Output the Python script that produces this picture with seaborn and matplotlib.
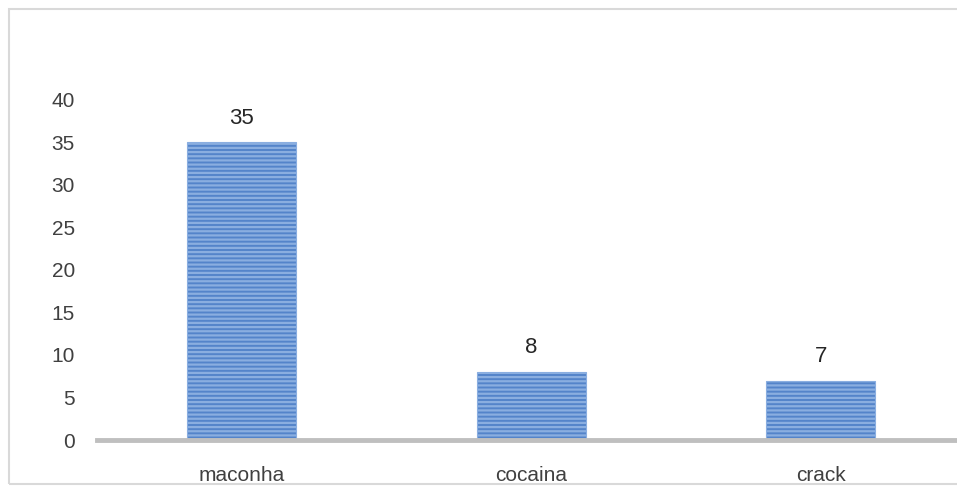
import matplotlib
matplotlib.use("Agg")
import matplotlib.pyplot as plt
from matplotlib.patches import Rectangle
import seaborn as sns
import pandas as pd

categories = ["maconha", "cocaina", "crack"]
values = [35, 8, 7]
y_ticks = [0, 5, 10, 15, 20, 25, 30, 35, 40]

sns.set_theme(style="white")
plt.rcParams["font.family"] = ["Liberation Sans", "DejaVu Sans"]
plt.rcParams["hatch.color"] = "#B4CBEE"
plt.rcParams["hatch.linewidth"] = 1.6

df = pd.DataFrame({"droga": categories, "n": values})

W, H = 957, 487
fig = plt.figure(figsize=(W / 100, H / 100), dpi=100)
fig.patch.set_facecolor("white")

# outer chart frame
fig.add_artist(Rectangle((8.5 / W, 1 - 484 / H), (W + 5 - 8.5) / W, (484 - 9) / H,
                         transform=fig.transFigure, fill=False,
                         edgecolor="#D9D9D9", linewidth=1.5, zorder=0))

left, right = 97, 957
top, bottom = 100, 440
ax = fig.add_axes([left / W, 1 - bottom / H, (right - left) / W, (bottom - top) / H])

sns.barplot(data=df, x="droga", y="n", ax=ax, color="#5484CA",
            width=0.377, saturation=1, edgecolor="#8AAEE0", linewidth=0.8)
for p in ax.patches:
    p.set_hatch("----")

ax.set_xlim(-0.5, -0.5 + (right - left) / 289.5)
ax.set_ylim(0, 40)
ax.set_yticks(y_ticks)
ax.set_yticklabels([str(t) for t in y_ticks])
ax.set_xlabel("")
ax.set_ylabel("")

for s in ["top", "right", "left"]:
    ax.spines[s].set_visible(False)
ax.spines["bottom"].set_color("#BFBFBF")
ax.spines["bottom"].set_linewidth(3.5)
ax.spines["bottom"].set_zorder(5)

ax.tick_params(axis="y", length=0, pad=16, labelsize=15, labelcolor="#404040")
ax.tick_params(axis="x", length=0, pad=19, labelsize=15, labelcolor="#404040")

for i, v in enumerate(values):
    ax.text(i, v + 1.6, str(v), ha="center", va="bottom", fontsize=16,
            color="#262626", clip_on=False)

fig.savefig("out.png", dpi=100, facecolor="white")
